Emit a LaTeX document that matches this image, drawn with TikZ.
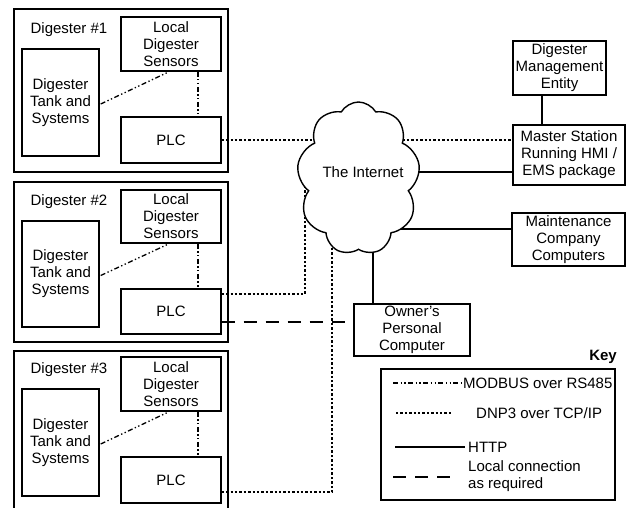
\documentclass[tikz,border=0pt]{standalone}
\usepackage{fontspec}
\setmainfont{Liberation Sans}
\usetikzlibrary{shapes.symbols,calc}
\pgfdeclarelayer{paper}
\pgfdeclarelayer{background}
\pgfsetlayers{paper,background,main}
\begin{document}
\begin{tikzpicture}[x=1pt,y=-1pt,
  every node/.style={font=\fontsize{15}{17}\selectfont, inner sep=0pt},
  bx/.style 2 args={draw, line width=1.4pt, align=center, minimum width=#1pt, minimum height=#2pt},
  modbus/.style={line width=1.3pt, dash pattern=on 5pt off 2.5pt on 1.3pt off 2.5pt on 1.3pt off 2.5pt},
  dnp/.style={line width=1.3pt, dash pattern=on 2.4pt off 2pt},
  http/.style={line width=1.3pt},
  localcon/.style={line width=1.3pt, dash pattern=on 13pt off 9pt},
  lbl/.style={anchor=center}]
\clip (0,0) rectangle (626,508);
\begin{pgfonlayer}{paper}
\fill[white] (0,0) rectangle (626,508);
\end{pgfonlayer}

% Digester 1
\node[bx={214}{163}] (d1) at (121,90.5) {};
\node[lbl] (d1l) at (69,30) {Digester \#1};
\node[bx={100}{54}] (s1) at (171,44) {Local\\Digester\\Sensors};
\node[bx={77}{107}] (t1) at (60.5,102.5) {Digester\\Tank and\\Systems};
\node[bx={100}{46}] (p1) at (171,140) {PLC};
% Digester 2
\node[bx={214}{160}] (d2) at (121,262) {};
\node[lbl] (d2l) at (69,202) {Digester \#2};
\node[bx={100}{53}] (s2) at (171,216.5) {Local\\Digester\\Sensors};
\node[bx={77}{106}] (t2) at (60.5,274) {Digester\\Tank and\\Systems};
\node[bx={100}{45}] (p2) at (171,311.5) {PLC};
% Digester 3
\node[bx={214}{179}] (d3) at (121,440.5) {};
\node[lbl] (d3l) at (69,370) {Digester \#3};
\node[bx={100}{54}] (s3) at (171,384) {Local\\Digester\\Sensors};
\node[bx={77}{107}] (t3) at (60.5,442.5) {Digester\\Tank and\\Systems};
\node[bx={100}{46}] (p3) at (171,480) {PLC};

% right side
\node[bx={93}{54}] (dme) at (559.5,68) {Digester\\Management\\Entity};
\node[bx={112}{60}] (ms) at (569,155) {Master Station\\Running HMI /\\EMS package};
\node[bx={113}{53}] (mc) at (568.5,239.5) {Maintenance\\Company\\Computers};
\node[bx={116}{52}] (own) at (412,330) {Owner's\\Personal\\Computer};

% cloud
\node[cloud, cloud puffs=9, cloud puff arc=120, cloud ignores aspect, draw, fill=white,
      line width=1.4pt, minimum width=123pt, minimum height=153pt] (cloud) at (358.5,178.5) {};
\node (inet) at (363,172) {The Internet};

% local MODBUS links
\foreach \i in {1,2,3}{
  \draw[modbus] ([xshift=1pt,yshift=-1.5pt]t\i.east) -- ([xshift=-4pt,yshift=-1pt]s\i.south);
  \draw[modbus] ([xshift=27pt]s\i.south) -- ([xshift=27pt]p\i.north);
}

% helper coordinates
\coordinate (yh) at (0,172);
\coordinate (ym) at (0,229);
\coordinate (xo) at (373,0);
\coordinate (xd) at (542,0);
\coordinate (c2) at (305,294);
\coordinate (c3) at (332,492);
\coordinate (yl) at (0,322);

\draw[http] (xd |- dme.south) -- (xd |- ms.north);

\begin{pgfonlayer}{background}
  \draw[dnp] (p1.east) -- (p1.east -| cloud.center);
  \draw[dnp] (p1.east -| cloud.center) -- (p1.east -| ms.west);
  \draw[http] (yh -| cloud.center) -- (yh -| ms.west);
  \draw[http] (ym -| cloud.center) -- (ym -| mc.west);
  \draw[http] (xo |- cloud.center) -- (xo |- own.north);
  \draw[dnp] (p2.east |- c2) -- (c2) -- (c2 |- cloud.center);
  \draw[dnp] (p3.east |- c3) -- (c3) -- (c3 |- cloud.center);
  \draw[localcon] (p2.east |- yl) -- (own.west |- yl);
\end{pgfonlayer}

% key
\node[font=\fontsize{15}{17}\selectfont\bfseries] (keyl) at (603,357) {Key};
\node[bx={234}{131}] (key) at (498,434.5) {};
\coordinate (k1a) at (393,383); \coordinate (k1b) at (461,383);
\coordinate (k2a) at (396,413); \coordinate (k2b) at (453,413);
\coordinate (k3a) at (395,447); \coordinate (k3b) at (465,447);
\coordinate (k4a) at (393,477); \coordinate (k4b) at (450,477);
\draw[modbus] (k1a) -- (k1b);
\draw[dnp] (k2a) -- (k2b);
\draw[http] (k3a) -- (k3b);
\draw[localcon] (k4a) -- (k4b);
\node[anchor=west] (kt1) at (463,383) {MODBUS over RS485};
\node[anchor=west] (kt2) at (476,413) {DNP3 over TCP/IP};
\node[anchor=west] (kt3) at (468,447) {HTTP};
\node[anchor=west, align=left] (kt4) at (468,476.5) {Local connection\\as required};
\end{tikzpicture}
\end{document}
